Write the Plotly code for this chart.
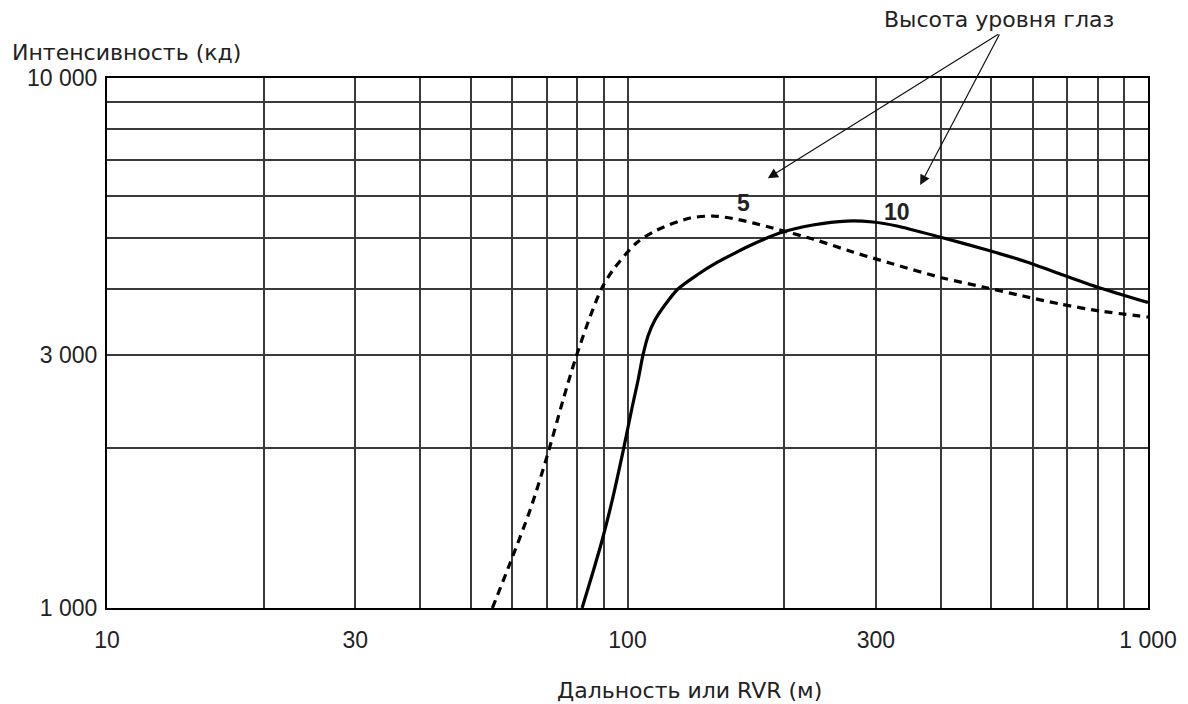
import math
import plotly.graph_objects as go

# Eye-height 5 m curve (dashed)
x_5 = [55, 59.5, 65, 70, 75.2, 79.3, 84.7, 89.3, 93.8, 104, 114, 132, 146, 159.5, 174, 190, 227, 271, 319, 403, 482, 575, 678, 809, 1000]
y_5 = [1000, 1216, 1531, 1927, 2469, 2938, 3540, 4017, 4343, 4883, 5167, 5442, 5490, 5430, 5330, 5210, 4968, 4695, 4477, 4195, 4034, 3879, 3746, 3634, 3540]

# Eye-height 10 m curve (solid)
x_10 = [81.8, 85.5, 89.3, 93.4, 98, 102, 104.8, 107.1, 109.5, 112.9, 118, 125, 136, 148.6, 162.3, 172, 196, 227, 264, 296, 329.5, 398, 491, 585, 687, 798, 1000]
y_10 = [1000, 1154, 1338, 1592, 1970, 2384, 2693, 3002, 3261, 3494, 3730, 3999, 4249, 4487, 4695, 4830, 5099, 5280, 5372, 5350, 5258, 5012, 4736, 4497, 4249, 4034, 3770]

x_grid = [10, 20, 30, 40, 50, 60, 70, 80, 90, 100, 200, 300, 400, 500, 600, 700, 800, 900, 1000]
x_text = ["10", "", "30", "", "", "", "", "", "", "100", "", "300", "", "", "", "", "", "", "1 000"]
y_grid = [1000, 2000, 3000, 4000, 5000, 6000, 7000, 8000, 9000, 10000]
y_text = ["1 000", "", "3 000", "", "", "", "", "", "", "10 000"]

FONT = "Liberation Sans, Arial, sans-serif"
TFONT = "DejaVu Sans, sans-serif"
TXT = "#222222"
GRID = "#3a3a3a"

fig = go.Figure()
fig.add_trace(go.Scatter(x=x_5, y=y_5, mode="lines", line=dict(color="black", width=3.2, dash="8px,6px", shape="spline", smoothing=0.8), showlegend=False))
fig.add_trace(go.Scatter(x=x_10, y=y_10, mode="lines", line=dict(color="black", width=3.2, shape="spline", smoothing=0.7), showlegend=False))

fig.update_xaxes(type="log", range=[1, 3], tickvals=x_grid, ticktext=x_text,
                 showgrid=True, gridcolor=GRID, gridwidth=1.5,
                 showline=True, linecolor="black", linewidth=2, mirror=True,
                 ticks="", ticklabelstandoff=10, zeroline=False,
                 tickfont=dict(family=FONT, size=23, color=TXT))
fig.update_yaxes(type="log", range=[3, 4], tickvals=y_grid, ticktext=y_text,
                 showgrid=True, gridcolor=GRID, gridwidth=1.5,
                 showline=True, linecolor="black", linewidth=2, mirror=True,
                 ticks="", ticklabelstandoff=3, zeroline=False,
                 tickfont=dict(family=FONT, size=23, color=TXT))

anns = [
    dict(text="Интенсивность (кд)", xref="paper", yref="paper", x=-0.0935, y=1.049,
         xanchor="left", yanchor="middle", showarrow=False, font=dict(family=TFONT, size=22, color=TXT)),
    dict(text="Дальность или RVR (м)", xref="paper", yref="paper", x=0.56, y=-0.155,
         xanchor="center", yanchor="middle", showarrow=False, font=dict(family=TFONT, size=22, color=TXT)),
    dict(text="Высота уровня глаз", xref="paper", yref="paper", x=0.857, y=1.111,
         xanchor="center", yanchor="middle", showarrow=False, font=dict(family=TFONT, size=22, color=TXT)),
    dict(text="<b>5</b>", x=math.log10(167), y=math.log10(5800), showarrow=False,
         font=dict(family=FONT, size=23, color=TXT)),
    dict(text="<b>10</b>", x=math.log10(330), y=math.log10(5590), showarrow=False,
         font=dict(family=FONT, size=23, color=TXT)),
    dict(text="", x=math.log10(186), y=math.log10(6470), ax=232, ay=-145, showarrow=True,
         arrowhead=2, arrowsize=1.7, arrowwidth=1.2, arrowcolor="#111"),
    dict(text="", x=math.log10(365), y=math.log10(6281), ax=80, ay=-152, showarrow=True,
         arrowhead=2, arrowsize=1.7, arrowwidth=1.2, arrowcolor="#111"),
]

fig.update_layout(width=1188, height=704, margin=dict(l=107, r=40, t=78, b=96),
                  paper_bgcolor="white", plot_bgcolor="white", annotations=anns,
                  font=dict(family=FONT, color=TXT))
fig.write_html("out.html")
